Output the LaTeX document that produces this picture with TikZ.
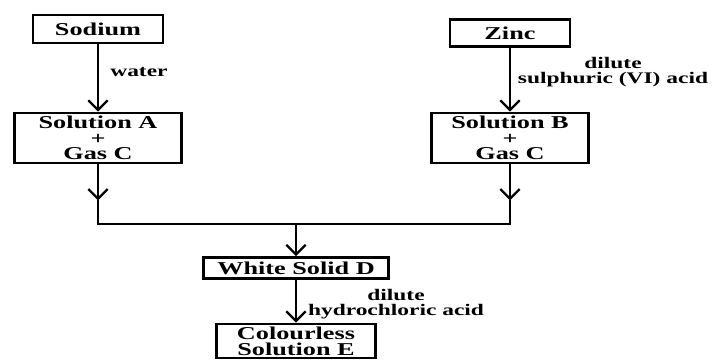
\documentclass[tikz,border=0pt]{standalone}
\usepackage{fontspec}
\setmainfont{Liberation Serif}[FakeStretch=1.45]
\usetikzlibrary{arrows.meta}

\tikzset{
  box/.style={draw, line width=1.5pt, inner sep=0pt, align=center,
              font=\bfseries\fontsize{10.3}{9}\selectfont},
  lbl/.style={inner sep=0pt, align=center,
              font=\bfseries\fontsize{9.2}{8.8}\selectfont},
  link/.style={line width=1.3pt},
  flow/.style={link, -{Straight Barb[length=5.5pt,width=11pt]}},
}

\begin{document}
\begin{tikzpicture}[x=0.02cm, y=-0.02cm]
    \useasboundingbox (0,0) rectangle (724,361);
    % the two metals
    \node[box, minimum width=2.6cm, minimum height=0.56cm] (sodium) at (98,29) {Sodium};
    \node[box, minimum width=2.4cm, minimum height=0.54cm] (zinc) at (510,33) {Zinc};
    % what they give
    \node[box, minimum width=3.34cm, minimum height=1cm] (solA) at (98,138) {Solution A\\+\\Gas C};
    \node[box, minimum width=3.14cm, minimum height=1cm] (solB) at (510,138) {Solution B\\+\\Gas C};
    \node[box, minimum width=3.7cm, minimum height=0.42cm] (solidD) at (296,268) {White Solid D};
    \node[box, minimum width=3.18cm, minimum height=0.68cm] (solE) at (296,341) {Colourless\\Solution E};

    % reagents
    \node[lbl, anchor=west] (water) at (110,72) {water};
    \node[lbl] (sulph) at (613,72) {dilute\\sulphuric (VI) acid};
    \node[lbl] (hcl) at (396,304) {dilute\\hydrochloric acid};

    \draw[flow] (sodium.south) -- (solA.north);
    \draw[flow] (zinc.south) -- (solB.north);
    \draw[flow] (solA.south) -- ++(0,36) coordinate (tipA);
    \draw[flow] (solB.south) -- ++(0,36) coordinate (tipB);
    \coordinate (bar) at (296,224);
    \draw[link] (tipA) -- (tipA |- bar) -- (tipB |- bar) -- (tipB);
    \draw[flow] (bar) -- (solidD.north);
    \draw[flow] (solidD.south) -- (solE.north);
\end{tikzpicture}
\end{document}
